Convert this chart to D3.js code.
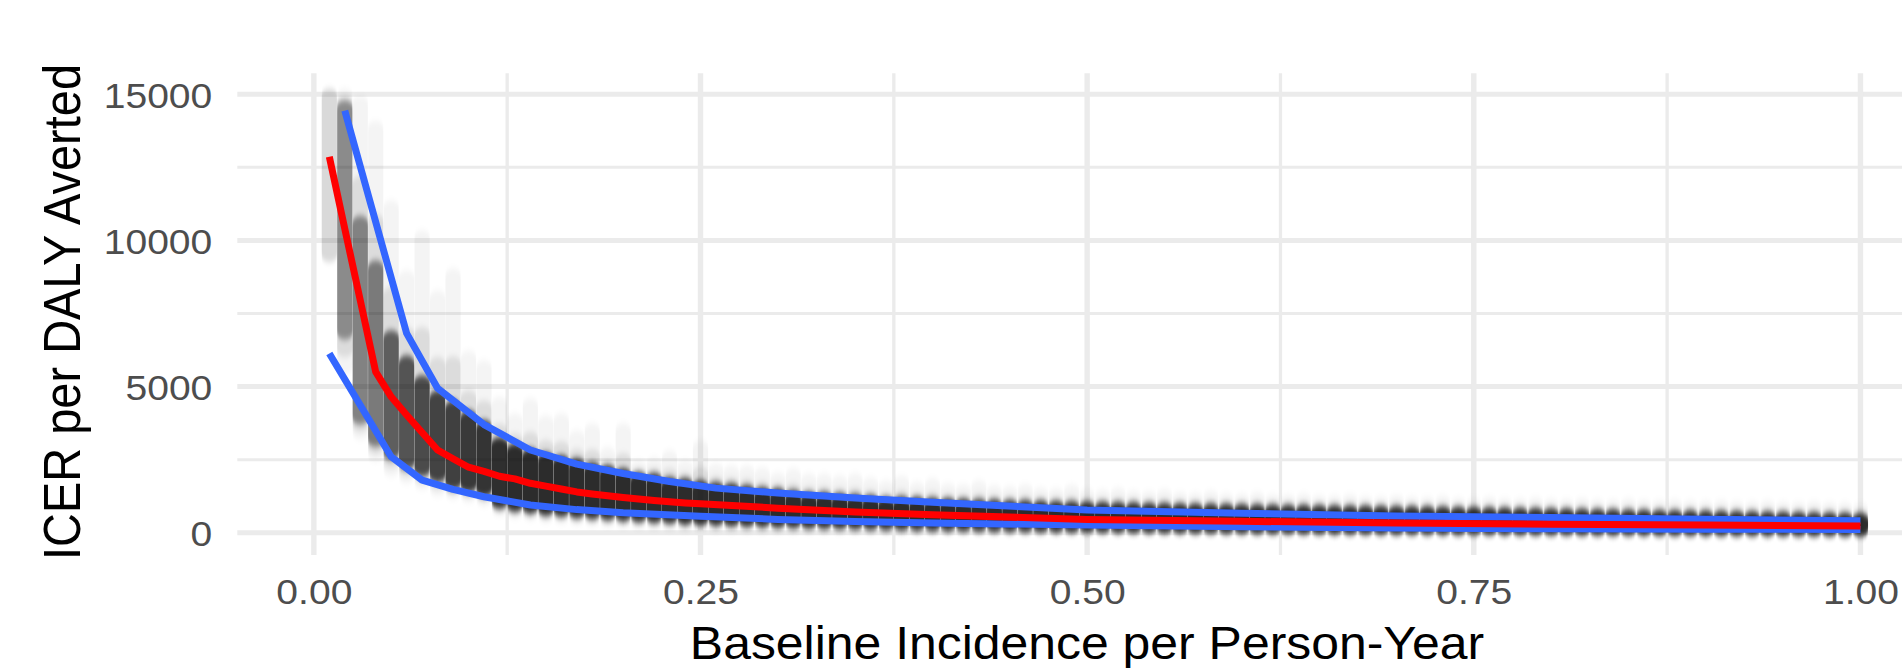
<!DOCTYPE html>
<html>
<head>
<meta charset="utf-8">
<script src="https://cdn.jsdelivr.net/npm/d3@7"></script>
<style>
  body { margin: 0; background: #fff; }
  svg { display: block; }
  text { font-family: "Liberation Sans", Arial, sans-serif; }
</style>
</head>
<body>
<div id="chart"></div>
<script>
// incidence columns, in percent (0.01 .. 1.00)
const incidencePct = [
  1, 2, 3, 4, 5, 6, 7, 8, 9, 10, 11, 12, 13, 14, 15, 16, 17, 18, 19, 20,
  21, 22, 23, 24, 25, 26, 27, 28, 29, 30, 31, 32, 33, 34, 35, 36, 37, 38, 39, 40,
  41, 42, 43, 44, 45, 46, 47, 48, 49, 50, 51, 52, 53, 54, 55, 56, 57, 58, 59, 60,
  61, 62, 63, 64, 65, 66, 67, 68, 69, 70, 71, 72, 73, 74, 75, 76, 77, 78, 79, 80,
  81, 82, 83, 84, 85, 86, 87, 88, 89, 90, 91, 92, 93, 94, 95, 96, 97, 98, 99, 100
];

// simulated ICER cloud per column: highest / lowest visible draw and dense band
const cloudTop = [
  14950, 14950, 14700, 13850, 11130, 8730, 10100, 8050, 8800, 5990,
  5650, 4400, 3840, 4350, 3770, 3840, 3260, 3500, 2680, 3500,
  2230, 2330, 2570, 2230, 2915, 2130, 2060, 2060, 1990, 1820,
  1960, 1790, 1790, 1720, 1790, 1650, 1550, 1700, 1500, 1620,
  1450, 1420, 1550, 1380, 1350, 1420, 1300, 1280, 1400, 1260,
  1230, 1300, 1200, 1180, 1250, 1150, 1130, 1200, 1100, 1090,
  1150, 1070, 1060, 1100, 1040, 1030, 1080, 1010, 1000, 1050,
  990, 980, 1030, 960, 950, 990, 940, 930, 970, 920,
  910, 950, 900, 890, 930, 880, 870, 900, 860, 850,
  880, 840, 830, 860, 820, 810, 840, 800, 790, 780
];
const coreTop = [
  null, 14550, 10600, 9070, 6680, 5820, 5140, 4630, 4280, 3940,
  3600, 3030, 2810, 2640, 2500, 2400, 2300, 2160, 2060, 1960,
  1820, 1790, 1650, 1615, 1550, 1480, 1445, 1375, 1305, 1270,
  1205, 1135, 1135, 1100, 1065, 1035, 965, 990, 970, 950,
  930, 915, 900, 885, 870, 860, 850, 840, 830, 820,
  810, 800, 790, 780, 770, 762, 755, 748, 740, 732,
  725, 718, 712, 705, 698, 692, 686, 680, 674, 668,
  662, 656, 650, 640, 630, 620, 612, 604, 596, 588,
  580, 572, 564, 556, 548, 540, 532, 524, 516, 508,
  500, 492, 484, 476, 468, 460, 452, 444, 436, 428
];
const coreBot = [
  null, 6850, 3950, 3190, 2740, 2400, 2160, 1960, 1720, 1620,
  1480, 1070, 965, 900, 830, 795, 740, 710, 675, 635,
  605, 580, 555, 515, 495, 480, 460, 445, 430, 410,
  400, 385, 375, 365, 355, 340, 330, 320, 310, 300,
  292, 285, 278, 272, 266, 260, 255, 250, 245, 240,
  236, 232, 228, 224, 220, 216, 212, 208, 204, 200,
  197, 194, 191, 188, 185, 182, 179, 176, 173, 170,
  168, 166, 164, 162, 160, 158, 156, 154, 152, 150,
  148, 146, 144, 142, 140, 138, 136, 134, 132, 130,
  128, 126, 124, 122, 120, 118, 116, 114, 112, 110
];
const cloudBot = [
  9500, 5650, 3430, 2680, 2160, 1920, 1720, 1480, 1380, 1270,
  1140, 830, 725, 660, 590, 555, 505, 470, 435, 395,
  365, 340, 315, 290, 275, 260, 250, 240, 230, 225,
  220, 215, 210, 205, 200, 195, 190, 185, 180, 175,
  172, 170, 168, 165, 162, 160, 158, 155, 152, 150,
  148, 146, 144, 142, 140, 138, 136, 134, 132, 130,
  128, 126, 124, 122, 120, 118, 116, 114, 112, 110,
  108, 106, 104, 102, 100, 98, 96, 94, 92, 90,
  88, 86, 85, 84, 83, 82, 81, 80, 79, 78,
  77, 76, 75, 74, 73, 72, 71, 70, 69, 68
];

// summary lines (vertices)
const medianX = [0.01, 0.02, 0.03, 0.04, 0.05, 0.06, 0.07, 0.08, 0.09, 0.10, 0.11, 0.12, 0.13, 0.14, 0.15,
  0.16, 0.17, 0.18, 0.19, 0.20, 0.21, 0.22, 0.23, 0.24, 0.25, 0.30, 0.35, 0.40, 0.50, 0.60, 0.70, 0.80, 0.90, 1.00];
const medianY = [12865, 10400, 7950, 5500, 4650, 4030, 3430, 2830, 2530, 2240, 2100, 1930, 1840, 1690, 1595,
  1495, 1395, 1325, 1265, 1205, 1155, 1105, 1060, 1020, 990, 840, 710, 610, 455, 390, 330, 290, 260, 230];
const upperX = [0.02, 0.06, 0.08, 0.11, 0.14, 0.17, 0.20, 0.23, 0.26, 0.30, 0.35, 0.40, 0.50, 0.60, 0.70, 0.80, 0.90, 1.00];
const upperY = [14440, 6820, 4940, 3700, 2830, 2345, 2025, 1750, 1525, 1355, 1185, 1040, 777, 666, 571, 516, 463, 411];
const lowerX = [0.01, 0.05, 0.07, 0.09, 0.11, 0.14, 0.17, 0.20, 0.25, 0.30, 0.35, 0.40, 0.50, 0.60, 0.70, 0.80, 0.90, 1.00];
const lowerY = [6130, 2600, 1800, 1480, 1230, 950, 790, 680, 560, 455, 385, 330, 263, 200, 158, 135, 120, 110];

// axes
const xMajor = [0, 0.25, 0.5, 0.75, 1];
const xMinor = [0.125, 0.375, 0.625, 0.875];
const yMajor = [0, 5000, 10000, 15000];
const yMinor = [2500, 7500, 12500];

const WIDTH = 1902;
const HEIGHT = 668;
const PANEL = { left: 237.3, right: 1937, top: 73.3, bottom: 555 };
const X_STRETCH = 1.085;
const PT_RX = 7.6;
const PT_RY = 7;

const svg = d3.select("#chart")
  .append("svg")
  .attr("width", WIDTH)
  .attr("height", HEIGHT);

const x = d3.scaleLinear().domain([-0.0495, 1.0495]).range([PANEL.left, PANEL.right]);
const y = d3.scaleLinear().domain([-763, 15718]).range([PANEL.bottom, PANEL.top]);

const defs = svg.append("defs");
defs.append("filter")
  .attr("id", "soft")
  .attr("x", "-5%").attr("y", "-10%")
  .attr("width", "110%").attr("height", "120%")
  .append("feGaussianBlur")
  .attr("stdDeviation", "0.5 3");

// grid
const grid = svg.append("g").attr("class", "grid").attr("stroke", "#EBEBEB");
grid.selectAll(".y-minor").data(yMinor).join("line")
  .attr("x1", PANEL.left).attr("x2", PANEL.right)
  .attr("y1", (d) => y(d)).attr("y2", (d) => y(d))
  .attr("stroke-width", 3);
grid.selectAll(".x-minor").data(xMinor).join("line")
  .attr("x1", (d) => x(d)).attr("x2", (d) => x(d))
  .attr("y1", PANEL.top).attr("y2", PANEL.bottom)
  .attr("stroke-width", 3.3);
grid.selectAll(".y-major").data(yMajor).join("line")
  .attr("x1", PANEL.left).attr("x2", PANEL.right)
  .attr("y1", (d) => y(d)).attr("y2", (d) => y(d))
  .attr("stroke-width", 5);
grid.selectAll(".x-major").data(xMajor).join("line")
  .attr("x1", (d) => x(d)).attr("x2", (d) => x(d))
  .attr("y1", PANEL.top).attr("y2", PANEL.bottom)
  .attr("stroke-width", 5.4);

// point cloud: each column of translucent points drawn as stacked capsules
const columns = incidencePct.map((p, i) => ({
  x: p / 100,
  cloudTop: cloudTop[i],
  coreTop: coreTop[i],
  coreBot: coreBot[i],
  cloudBot: cloudBot[i]
}));

const cloud = svg.append("g").attr("class", "cloud").attr("filter", "url(#soft)");

function capsule(sel, top, bot, opacity) {
  sel.append("rect")
    .attr("x", (d) => x(d.x) - PT_RX)
    .attr("width", PT_RX * 2)
    .attr("y", (d) => top(d) - PT_RY)
    .attr("height", (d) => Math.max(0, bot(d) - top(d)) + PT_RY * 2)
    .attr("rx", PT_RX)
    .attr("ry", PT_RY)
    .attr("fill", "#000")
    .attr("fill-opacity", opacity);
}

const colGroups = cloud.selectAll("g.col").data(columns).join("g").attr("class", "col");

capsule(colGroups, (d) => y(d.cloudTop), (d) => y(d.cloudBot), (d) => (d.coreTop === null ? 0.15 : 0.045));

const withCore = colGroups.filter((d) => d.coreTop !== null);
capsule(
  withCore,
  (d) => (y(d.cloudTop) + 2 * y(d.coreTop)) / 3,
  (d) => (y(d.cloudBot) + y(d.coreBot)) / 2,
  0.1
);
capsule(
  withCore,
  (d) => y(d.coreTop),
  (d) => y(d.coreBot),
  (d) => {
    const h = y(d.coreBot) - y(d.coreTop) + PT_RY * 2;
    return Math.min(0.8, 1 - Math.exp(-110 / h));
  }
);

// summary lines
const line = d3.line().x((d) => x(d[0])).y((d) => y(d[1]));
const lines = svg.append("g").attr("class", "lines").attr("fill", "none")
  .attr("stroke-width", 7).attr("stroke-linejoin", "round");

lines.append("path")
  .attr("d", line(upperX.map((v, i) => [v, upperY[i]])))
  .attr("stroke", "#3366FF");
lines.append("path")
  .attr("d", line(lowerX.map((v, i) => [v, lowerY[i]])))
  .attr("stroke", "#3366FF");
lines.append("path")
  .attr("d", line(medianX.map((v, i) => [v, medianY[i]])))
  .attr("stroke", "#FF0000");

// axes
const yAxis = svg.append("g")
  .attr("transform", `translate(${PANEL.left},0)`)
  .call(d3.axisLeft(y).tickValues(yMajor).tickFormat((d) => String(d)).tickSize(0).tickPadding(0));
yAxis.select(".domain").remove();
yAxis.selectAll("text")
  .attr("x", -25 / X_STRETCH)
  .attr("dy", "0.36em")
  .attr("transform", `scale(${X_STRETCH},1)`)
  .attr("fill", "#4D4D4D")
  .style("font-size", "36px")
  .style("font-family", "'Liberation Sans', Arial, sans-serif");

const xAxis = svg.append("g")
  .attr("transform", `translate(0,${PANEL.bottom})`)
  .call(d3.axisBottom(x).tickValues(xMajor).tickFormat(d3.format(".2f")).tickSize(0).tickPadding(23.5));
xAxis.select(".domain").remove();
xAxis.selectAll("text")
  .attr("transform", `scale(${X_STRETCH},1)`)
  .attr("fill", "#4D4D4D")
  .style("font-size", "36px")
  .style("font-family", "'Liberation Sans', Arial, sans-serif");

svg.append("text")
  .attr("transform", `translate(1087,659) scale(${X_STRETCH},1)`)
  .attr("text-anchor", "middle")
  .attr("fill", "#000")
  .style("font-size", "46px")
  .text("Baseline Incidence per Person-Year");

svg.append("text")
  .attr("transform", `translate(80.4,312) scale(${X_STRETCH},1) rotate(-90)`)
  .attr("text-anchor", "middle")
  .attr("fill", "#000")
  .style("font-size", "47px")
  .text("ICER per DALY Averted");
</script>
</body>
</html>
